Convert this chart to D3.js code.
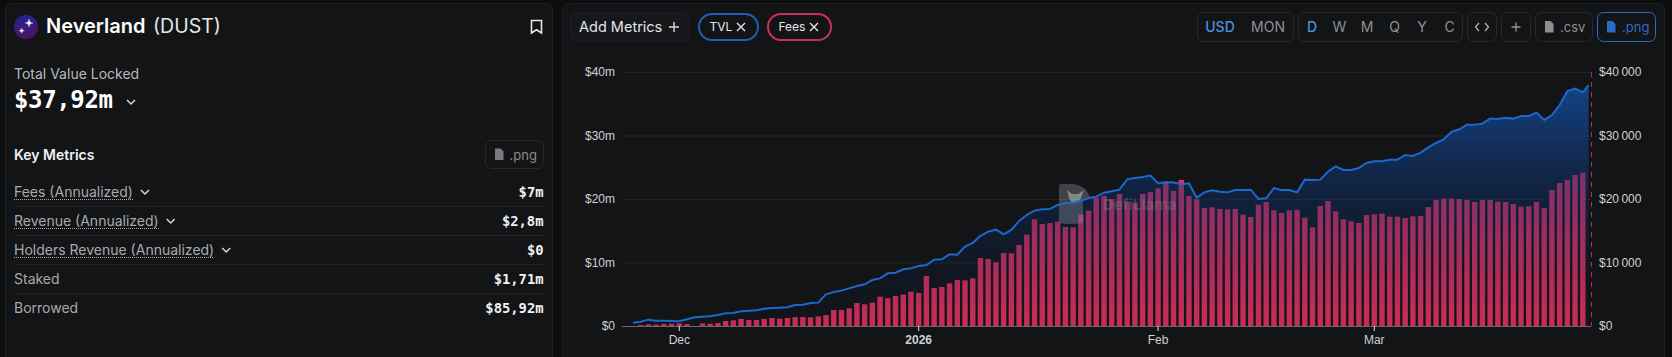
<!DOCTYPE html>
<html lang="en">
<head>
<meta charset="utf-8">
<title>Neverland (DUST)</title>
<script src="https://d3js.org/d3.v7.min.js"></script>
<style>
    html, body { margin: 0; padding: 0; background: #0c0d0f; overflow: hidden; }
    text { font-family: Inter, sans-serif; }
    .mono { font-family: "DejaVu Sans Mono", monospace; font-weight: 700; }
    .axis text { font-family: "Liberation Sans", sans-serif; font-size: 12px; fill: #d0d1d3; }
</style>
</head>
<body>
<svg id="chart" width="1672" height="357"></svg>
<script>
// Nov 26 -> Mar 28, thousands of dollars per day
const fees = [0.15,0.26,0.22,0.32,0.37,0.42,0.3,0,0.42,0.37,0.47,0.79,0.89,1.1,0.95,0.95,1.1,1.26,1.15,1.26,1.42,1.42,1.37,1.52,1.73,2.52,2.52,2.78,3.62,3.41,3.68,4.62,4.36,4.73,4.94,5.41,
    5.2,7.88,5.99,6.14,6.72,7.25,7.19,7.51,10.71,10.55,10.03,11.5,11.45,12.76,14.39,16.8,16.07,16.22,16.43,15.59,15.54,17.59,18.17,20.2,20.5,20,20.8,19.5,19.4,20.8,21.1,
    21.7,22.73,21.26,23,20.48,19.95,18.59,18.69,18.43,18.38,18.43,17.54,17.17,19.11,19.53,18.22,17.8,18.22,18.32,17.06,15.54,18.9,19.69,18.06,16.8,16.49,16.22,17.48,
    17.59,17.69,17.22,17.22,17.01,17.27,17.33,18.74,19.85,20.06,20.06,20,19.85,19.53,19.85,19.85,19.58,19.53,19.22,18.8,18.85,19.53,18.59,21.42,22.52,23,23.78,24.15];

// Nov 25 -> Mar 28 plus the live point, millions of dollars
const tvl = [0.53,0.68,1,0.84,0.84,0.79,0.74,1.05,1.37,1.47,1.52,1.73,2,2.05,2.31,2.42,2.47,2.73,2.84,2.89,2.94,3.31,3.36,3.62,3.68,4.99,5.36,5.57,5.93,6.3,6.56,7.25,7.5,8.3,8.4,8.93,9.08,
    9.45,9.6,10.45,10.5,11.29,11.24,12.5,13.1,14.2,14.86,15.17,14.44,15.12,16.54,17.48,18.17,18.38,18.43,19.06,19.37,19.37,19.74,20.16,20.37,21,21.21,21.47,23.1,23.31,23.47,23.68,
    22.47,22.63,22.58,22.31,22.47,20.2,21.05,21.37,21.16,21.05,21.42,21.42,21.47,20,20.1,21.73,21.42,21.42,21.05,23.05,23,23.05,24.3,25.15,24.57,24.57,24.89,25.67,
    25.94,25.94,26.2,26.2,26.93,26.78,27.3,28.14,28.82,29.4,30.56,30.98,31.7,31.7,31.87,32.66,32.6,32.8,32.66,33.08,33.08,33.6,32.45,33.23,34.8,37,37.38,36.8,37.92];

const leftTicks = [0, 10, 20, 30, 40];
const rightTicks = [0, 10000, 20000, 30000, 40000];
const monthTicks = [["Dec", "2025-12-01"], ["2026", "2026-01-01"], ["Feb", "2026-02-01"], ["Mar", "2026-03-01"]];
const metricNames = ["Fees (Annualized)", "Revenue (Annualized)", "Holders Revenue (Annualized)", "Staked", "Borrowed"];
const metricValues = ["$7m", "$2,8m", "$0", "$1,71m", "$85,92m"];
const rangeButtons = ["D", "W", "M", "Q", "Y", "C"];

const day = 864e5;
const firstDay = Date.UTC(2025, 10, 25);
const tvlDates = tvl.map((d, i) => new Date(firstDay + (i < tvl.length - 1 ? i : i - 1 + 0.75) * day));
const feeDates = fees.map((d, i) => new Date(firstDay + (i + 1) * day));

const svg = d3.select("#chart");
const defs = svg.append("defs");

// x is fixed by the Dec and Mar ticks in the picture
const x = d3.scaleUtc().domain([new Date("2025-12-01"), new Date("2026-03-01")]).range([679.3, 1374.3]);
const yLeft = d3.scaleLinear().domain([0, 40]).range([326, 72]);
const yRight = d3.scaleLinear().domain([0, 40000]).range([326, 72]);

// panels
function panel(px, py, pw, ph) {
    svg.append("rect").attr("x", px + 0.5).attr("y", py + 0.5).attr("width", pw).attr("height", ph)
        .attr("rx", 6).attr("fill", "#131416").attr("stroke", "#1d1f22");
}
panel(5, 3, 547, 370);
panel(562, 3, 1102, 370);

// ---- left panel ----
const logoGrad = defs.append("linearGradient").attr("id", "logo").attr("x1", 0).attr("x2", 0.2).attr("y1", 0).attr("y2", 1);
logoGrad.append("stop").attr("offset", 0).attr("stop-color", "#23239a");
logoGrad.append("stop").attr("offset", 1).attr("stop-color", "#4c1562");
svg.append("circle").attr("cx", 26).attr("cy", 27).attr("r", 12).attr("fill", "url(#logo)");
const star = (cx, cy, r) => `M${cx},${cy - r}Q${cx},${cy} ${cx + r},${cy}Q${cx},${cy} ${cx},${cy + r}Q${cx},${cy} ${cx - r},${cy}Q${cx},${cy} ${cx},${cy - r}Z`;
svg.append("path").attr("d", star(29, 23, 4) + star(21.7, 30.7, 2.6)).attr("fill", "#fff").attr("stroke", "#fff").attr("stroke-width", 0.4);

svg.append("text").attr("x", 46).attr("y", 33).attr("fill", "#fff").attr("font-size", 20).attr("font-weight", 600).text("Neverland");
svg.append("text").attr("x", 153).attr("y", 33).attr("fill", "#e6e7e9").attr("font-size", 19.5).text("(DUST)");
svg.append("path").attr("d", "M531.5,20.5h10v12.5l-5,-3.2l-5,3.2z").attr("fill", "none").attr("stroke", "#e6e7e9").attr("stroke-width", 1.6);

svg.append("text").attr("x", 14).attr("y", 79).attr("fill", "#b9babd").attr("font-size", 14).text("Total Value Locked");
svg.append("text").attr("class", "mono").attr("x", 14).attr("y", 108).attr("fill", "#fff").attr("font-size", 24).attr("textLength", 99).text("$37,92m");
const chevron = (cx, cy, s, c) => svg.append("path").attr("d", `M${cx - s},${cy - s / 2}L${cx},${cy + s / 2}L${cx + s},${cy - s / 2}`)
    .attr("fill", "none").attr("stroke", c).attr("stroke-width", 1.5);
chevron(131, 102, 4, "#d8d9db");

svg.append("text").attr("x", 14).attr("y", 160).attr("fill", "#f0f1f2").attr("font-size", 14).attr("font-weight", 600).text("Key Metrics");

function fileButton(bx, by, bw, label, stroke, color) {
    svg.append("rect").attr("x", bx + 0.5).attr("y", by + 0.5).attr("width", bw).attr("height", 28).attr("rx", 6).attr("fill", "none").attr("stroke", stroke);
    svg.append("path").attr("d", `M${bx + 10},${by + 8.5}h5.5l3,3v8.5h-8.5z`).attr("fill", color).attr("opacity", 0.85);
    svg.append("text").attr("x", bx + 24.5).attr("y", by + 19.5).attr("fill", color).attr("font-size", 13).text(label);
}
fileButton(485, 140, 58, ".png", "#26282b", "#8b8c8f");

const rowY = d3.scaleLinear().domain([0, 4]).range([192, 308]);
metricNames.forEach((name, i) => {
    const t = svg.append("text").attr("x", 14).attr("y", rowY(i) + 5).attr("fill", "#a9aaad").attr("font-size", 14).text(name);
    if (i < 3) {
        const w = t.node().getComputedTextLength();
        svg.append("line").attr("x1", 14).attr("x2", 14 + w).attr("y1", rowY(i) + 7.5).attr("y2", rowY(i) + 7.5)
            .attr("stroke", "#a9aaad").attr("stroke-dasharray", "1 1");
        chevron(14 + w + 12, rowY(i), 4, "#d8d9db");
    }
    svg.append("text").attr("class", "mono").attr("x", 543.5).attr("y", rowY(i) + 5).attr("text-anchor", "end").attr("fill", "#f0f1f2").attr("font-size", 13.8).text(metricValues[i]);
    if (i < 4) svg.append("line").attr("x1", 14).attr("x2", 544).attr("y1", rowY(i) + 14.5).attr("y2", rowY(i) + 14.5).attr("stroke", "#212326");
});

// ---- toolbar ----
function box(bx, bw, stroke) {
    svg.append("rect").attr("x", bx + 0.5).attr("y", 12.5).attr("width", bw).attr("height", 29).attr("rx", 6).attr("fill", "none").attr("stroke", stroke || "#26282b");
}
function label(tx, str, color, size) {
    return svg.append("text").attr("x", tx).attr("y", 32).attr("text-anchor", "middle").attr("fill", color).attr("font-size", size || 14).text(str);
}
svg.append("rect").attr("x", 570.5).attr("y", 12.5).attr("width", 119).attr("height", 29).attr("rx", 6).attr("fill", "#17181b").attr("stroke", "#1c1e21");
svg.append("text").attr("x", 579).attr("y", 32).attr("fill", "#e3e4e6").attr("font-size", 14.5).text("Add Metrics");
svg.append("path").attr("d", "M674,22v10M669,27h10").attr("stroke", "#d8d9db").attr("stroke-width", 1.4);

function pill(px, pw, str, stroke) {
    svg.append("rect").attr("x", px).attr("y", 14).attr("width", pw).attr("height", 26).attr("rx", 13).attr("fill", "none").attr("stroke", stroke).attr("stroke-width", 2);
    svg.append("text").attr("x", px + 10.5).attr("y", 31).attr("fill", "#e6e7e9").attr("font-size", 12).text(str);
    const cx = px + pw - 17, cy = 27;
    svg.append("path").attr("d", `M${cx - 4},${cy - 4}l8,8M${cx + 4},${cy - 4}l-8,8`).attr("stroke", "#e6e7e9").attr("stroke-width", 1.3);
}
pill(699, 59, "TVL", "#1f5fb8");
pill(768, 63, "Fees", "#c92f5c");

box(1197, 96);
label(1220, "USD", "#4f8fdf", 14).attr("font-weight", 500);
label(1268, "MON", "#8f9093", 14);
box(1298, 164);
rangeButtons.forEach((r, i) => label(1312 + i * 27.5, r, i === 0 ? "#4f8fdf" : "#8f9093", 14).attr("font-weight", i === 0 ? 500 : 400));
box(1467, 29);
svg.append("path").attr("d", "M1479,23l-3.5,4l3.5,4M1485,23l3.5,4l-3.5,4").attr("fill", "none").attr("stroke", "#b0b1b4").attr("stroke-width", 1.3);
box(1501, 29);
svg.append("path").attr("d", "M1516,22.5v9M1511.5,27h9").attr("stroke", "#8f9093").attr("stroke-width", 1.4);
svg.append("rect").attr("x", 1535.5).attr("y", 12.5).attr("width", 57).attr("height", 29).attr("rx", 6).attr("fill", "none").attr("stroke", "#26282b");
svg.append("path").attr("d", "M1545,21h5.5l3,3v8.5h-8.5z").attr("fill", "#8f9093");
svg.append("text").attr("x", 1560).attr("y", 32).attr("fill", "#8f9093").attr("font-size", 13).text(".csv");
svg.append("rect").attr("x", 1597.5).attr("y", 12.5).attr("width", 58).attr("height", 29).attr("rx", 6).attr("fill", "none").attr("stroke", "#2a6cc4");
svg.append("path").attr("d", "M1607,21h5.5l3,3v8.5h-8.5z").attr("fill", "#2a6cc4");
svg.append("text").attr("x", 1622).attr("y", 32).attr("fill", "#2a6cc4").attr("font-size", 13).text(".png");

// ---- chart ----
const plot = svg.append("g");
plot.append("g").selectAll("line").data(leftTicks.slice(1)).join("line")
    .attr("x1", 622).attr("x2", 1591).attr("y1", d => yLeft(d) + 0.5).attr("y2", d => yLeft(d) + 0.5).attr("stroke", "#222427");

// bars
const barW = 5.4;
plot.append("g").selectAll("rect").data(fees).join("rect")
    .attr("x", (d, i) => x(feeDates[i]) - barW / 2)
    .attr("width", barW)
    .attr("y", d => yRight(d * 1000))
    .attr("height", d => yRight(0) - yRight(d * 1000))
    .attr("fill", "#e8315f");

// area sits over the bars, which is what turns them purple
const areaGrad = defs.append("linearGradient").attr("id", "tvlFill").attr("gradientUnits", "userSpaceOnUse")
    .attr("x1", 0).attr("x2", 0).attr("y1", yLeft(d3.max(tvl))).attr("y2", yLeft(0));
areaGrad.append("stop").attr("offset", 0).attr("stop-color", "#1450a5").attr("stop-opacity", 0.8);
areaGrad.append("stop").attr("offset", 0.45).attr("stop-color", "#0e326e").attr("stop-opacity", 0.45);
areaGrad.append("stop").attr("offset", 1).attr("stop-color", "#0a1428").attr("stop-opacity", 0.14);

const area = d3.area().x((d, i) => x(tvlDates[i])).y0(yLeft(0)).y1(d => yLeft(d));
const line = d3.line().x((d, i) => x(tvlDates[i])).y(d => yLeft(d));
plot.append("path").datum(tvl).attr("d", area).attr("fill", "url(#tvlFill)");

// watermark, under the line
const mark = svg.append("g");
mark.append("path").attr("d", "M1059,186q0,-2 2,-2h13q13,2 16,14l-7,3v22q-12,2 -24,0z").attr("fill", "#8e9096").attr("opacity", 0.38);
mark.append("path").attr("d", "M1067,190l5,4h6l6,-4l-3,8l-3,5h-6l-3,-5z").attr("fill", "#b9bac0").attr("opacity", 0.55);
mark.append("text").attr("x", 1103).attr("y", 210).attr("font-size", 15).attr("font-weight", 700).attr("fill", "#8e9096").attr("opacity", 0.3).text("DefiLlama");

plot.append("path").datum(tvl).attr("d", line).attr("fill", "none").attr("stroke", "#1c68cc").attr("stroke-width", 2);
svg.node().appendChild(plot.select("path:last-of-type").node());

// axes
const axisLeft = d3.axisLeft(yLeft).tickValues(leftTicks).tickSize(0).tickPadding(0).tickFormat(d => "$" + d + (d ? "m" : ""));
const axisRight = d3.axisRight(yRight).tickValues(rightTicks).tickSize(0).tickPadding(0)
    .tickFormat(d => "$" + d3.format(",")(d).replace(",", "\u2009"));
const gl = svg.append("g").attr("class", "axis").attr("transform", "translate(615,0)").call(axisLeft);
gl.select(".domain").remove();
const gr = svg.append("g").attr("class", "axis").attr("transform", "translate(1599,0)").call(axisRight);
gr.select(".domain").remove();

svg.append("line").attr("x1", 622).attr("x2", 1591).attr("y1", 326.5).attr("y2", 326.5).attr("stroke", "#6a6b6e");
svg.append("line").attr("x1", 1591.5).attr("x2", 1591.5).attr("y1", 72).attr("y2", 326).attr("stroke", "#b92c56").attr("stroke-dasharray", "5 5");

const bottom = svg.append("g").attr("class", "axis");
monthTicks.forEach(([name, date]) => {
    const tx = x(new Date(date));
    bottom.append("line").attr("x1", tx).attr("x2", tx).attr("y1", 326).attr("y2", 331).attr("stroke", "#e0e1e3");
    bottom.append("text").attr("x", tx).attr("y", 344).attr("text-anchor", "middle").attr("font-weight", name === "2026" ? 700 : 400).text(name);
});
</script>
</body>
</html>
